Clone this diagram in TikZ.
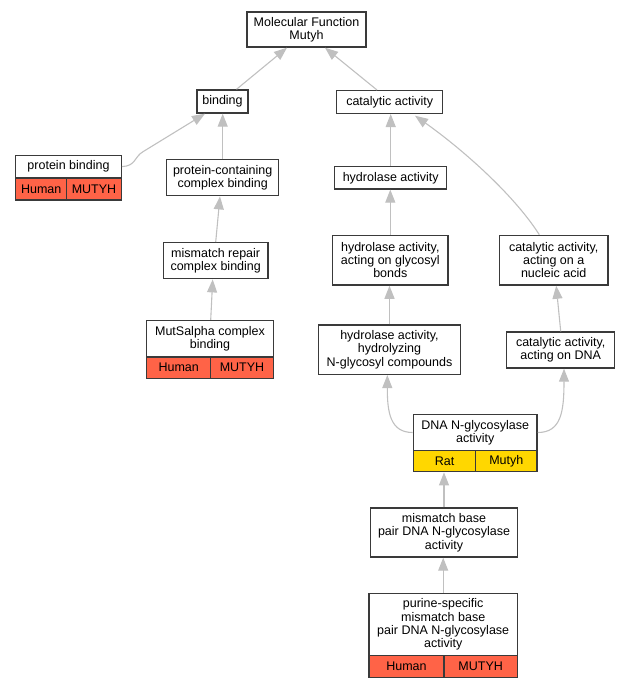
\documentclass[tikz,border=0pt]{standalone}
\usepackage{fontspec}
\setmainfont{Liberation Sans}
\usetikzlibrary{arrows.meta}
\definecolor{boxc}{HTML}{3A3A3A}
\definecolor{edgec}{HTML}{C0C0C0}
\definecolor{humanc}{HTML}{FF6347}
\definecolor{ratc}{HTML}{FFD700}
\tikzset{
  box/.style={draw=boxc, line width=1.4pt, fill=white, inner sep=0pt, align=center,
    font=\fontsize{12.5}{13.3}\selectfont},
  human/.style={box, fill=humanc},
  rat/.style={box, fill=ratc},
  edge/.style={draw=edgec, line width=1.1pt, -{Triangle[length=13pt,width=10pt]}, color=edgec}
}
\begin{document}
\begin{tikzpicture}[x=1pt,y=-1pt]
\useasboundingbox (0,0) rectangle (629,688);
% nodes
\node[box, minimum width=119pt, minimum height=35pt] (mf) at (306.5,29.5) {Molecular Function\\Mutyh};
\node[box, minimum width=51pt, minimum height=23pt] (bind) at (222.5,101.5) {binding};
\node[box, minimum width=106pt, minimum height=22.6pt] (cat) at (389.7,102) {catalytic activity};
% protein binding
\node[box, minimum width=105.6pt, minimum height=22.7pt] (pb) at (68.5,166.6) {protein binding};
\node[human, minimum width=51pt, minimum height=22pt] (pbl) at (41.2,189) {Human};
\node[human, minimum width=54.6pt, minimum height=22pt] (pbr) at (94,189) {MUTYH};
\node[box, minimum width=112pt, minimum height=36pt] (pcb) at (222.7,177.7) {protein-containing\\complex binding};
\node[box, minimum width=112pt, minimum height=22.3pt] (hyd) at (390.7,177.8) {hydrolase activity};
\node[box, minimum width=115.3pt, minimum height=49.7pt] (haogb) at (390.3,260.2) {hydrolase activity,\\acting on glycosyl\\bonds};
\node[box, minimum width=108.7pt, minimum height=49.7pt] (canu) at (553.7,260.2) {catalytic activity,\\acting on a\\nucleic acid};
\node[box, minimum width=104.7pt, minimum height=36pt] (mrcb) at (215.7,260.7) {mismatch repair\\complex binding};
% MutSalpha
\node[box, minimum width=126.6pt, minimum height=36.3pt] (msa) at (210,338.8) {MutSalpha complex\\binding};
\node[human, minimum width=64pt, minimum height=21.3pt] (msal) at (178.7,367.7) {Human};
\node[human, minimum width=62.6pt, minimum height=21.3pt] (msar) at (242,367.7) {MUTYH};
\node[box, minimum width=141.5pt, minimum height=49.3pt] (hhng) at (389.5,349.7) {hydrolase activity,\\hydrolyzing\\N-glycosyl compounds};
\node[box, minimum width=108pt, minimum height=36pt] (cadna) at (560.7,350) {catalytic activity,\\acting on DNA};
% DNA N-glycosylase
\node[box, minimum width=123.7pt, minimum height=35.6pt] (dng) at (475.2,432.5) {DNA N-glycosylase\\activity};
\node[rat, minimum width=62.4pt, minimum height=21.4pt] (dngl) at (444.5,461) {Rat};
\node[rat, minimum width=61.3pt, minimum height=21.4pt] (dngr) at (506.3,461) {Mutyh};
\node[box, minimum width=146.6pt, minimum height=49pt] (mbp) at (444,532.5) {mismatch base\\pair DNA N-glycosylase\\activity};
% purine-specific
\node[box, minimum width=148.3pt, minimum height=62.4pt] (pur) at (443.2,624.5) {purine-specific\\mismatch base\\pair DNA N-glycosylase\\activity};
\node[human, minimum width=75pt, minimum height=21.6pt] (purl) at (406.5,666.5) {Human};
\node[human, minimum width=73.3pt, minimum height=21.6pt] (purr) at (480.7,666.5) {MUTYH};
% edges
\draw[edge] ([xshift=14pt]bind.north) -- ([xshift=-19.5pt]mf.south);
\draw[edge] ([xshift=-12.7pt]cat.north) -- ([xshift=18.5pt]mf.south);
\draw[edge] (pb.east) .. controls (136,166) and (134,157) .. (143,151.7) -- ([xshift=-17.5pt]bind.south);
\draw[edge] (pcb.north) -- (pcb.north |- bind.south);
\draw[edge] (mrcb.north) -- ([xshift=-2.7pt]pcb.south);
\draw[edge] ([xshift=0.7pt]msa.north) -- ([xshift=-3pt]mrcb.south);
\draw[edge] (hyd.north) -- (hyd.north |- cat.south);
\draw[edge] (haogb.north) -- (haogb.north |- hyd.south);
\draw[edge] ([xshift=-14.4pt]canu.north) .. controls (512,192) and (458,146) .. ([xshift=25.3pt,yshift=-1.7pt]cat.south);
\draw[edge] (hhng.north) -- (hhng.north |- haogb.south);
\draw[edge] (cadna.north) -- ([xshift=2.5pt]canu.south);
\draw[edge] (dng.west) .. controls (390,432.5) and (387.3,412) .. ([xshift=-2.2pt]hhng.south);
\draw[edge] (dng.east) .. controls (561,432.5) and (564,412) .. ([xshift=3.3pt]cadna.south);
\draw[edge] (mbp.north) -- (mbp.north |- dngl.south);
\draw[edge] (pur.north) -- (pur.north |- mbp.south);
\end{tikzpicture}
\end{document}
